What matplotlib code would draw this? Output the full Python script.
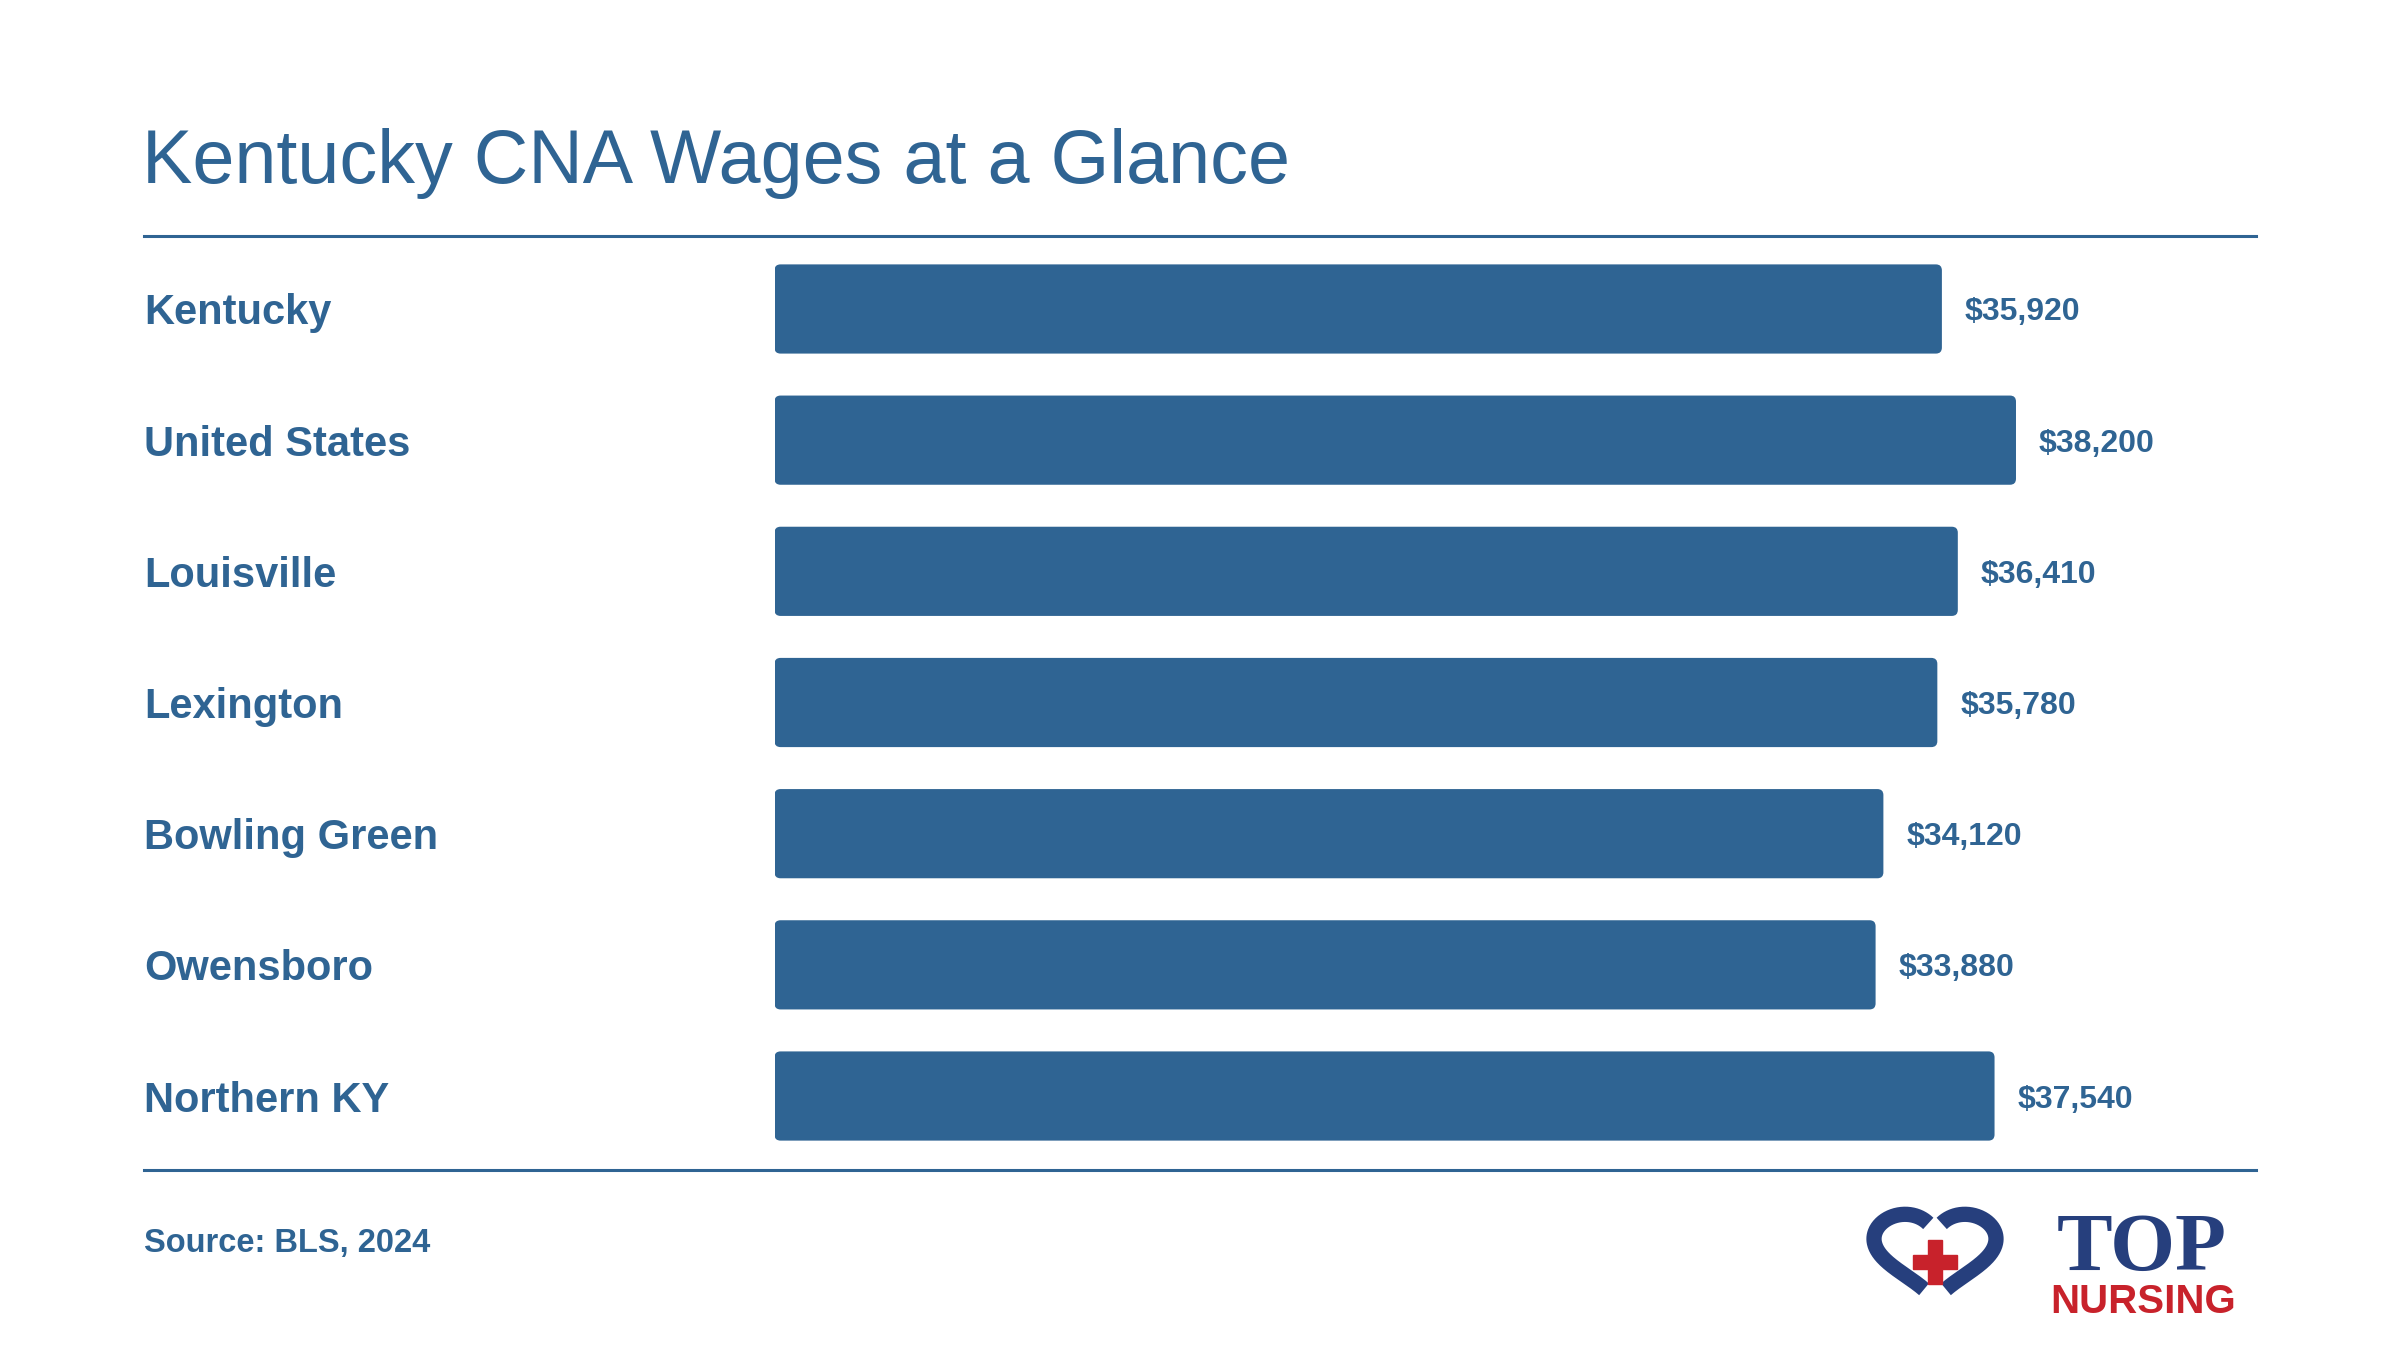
import numpy as np
import matplotlib
matplotlib.use('Agg')
import matplotlib.pyplot as plt
from matplotlib.patches import FancyBboxPatch
from matplotlib.lines import Line2D
import matplotlib.transforms as mtransforms

locations = ['Kentucky', 'United States', 'Louisville', 'Lexington',
             'Bowling Green', 'Owensboro', 'Northern KY']
wages = [35920, 38200, 36410, 35780, 34120, 33880, 37540]
title = 'Kentucky CNA Wages at a Glance'
source = 'Source: BLS, 2024'

BLUE = '#2F6493'
NAVY = '#263F7D'
RED = '#C8222B'
W, H = 2400, 1350

plt.rcParams['font.family'] = ['Liberation Sans', 'DejaVu Sans']

fig = plt.figure(figsize=(24, 13.5), dpi=100)
fig.patch.set_facecolor('white')

def fx(px):
    return px / W

def fy(py):
    return 1 - py / H

# bar axes: zero at x=774.5px, right edge at 2256px
ax = fig.add_axes([fx(774.5), fy(1161.6), fx(2256 - 774.5), (1161.6 - 243.4) / H])
xmax = 45585
ax.set_xlim(0, xmax)
ax.set_ylim(len(locations) - 0.5, -0.5)
ax.axis('off')

ypos = np.arange(len(locations))
bars = ax.barh(ypos, wages, height=0.68, color=BLUE)

# swap plain bars for rounded ones
x_per_px = xmax / (2256 - 774.5)
y_per_px = len(locations) / (1161.6 - 243.4)
for b in bars:
    x0, y0, w, h = b.get_x(), b.get_y(), b.get_width(), b.get_height()
    b.set_visible(False)
    ax.add_patch(FancyBboxPatch((x0, y0), w, h,
                                boxstyle=f'round,pad=0,rounding_size={6 * x_per_px}',
                                mutation_aspect=y_per_px / x_per_px,
                                facecolor=BLUE, edgecolor='none'))

for y, v in zip(ypos, wages):
    ax.annotate(f'${v:,}', (v, y), xytext=(16.5, 0), textcoords='offset points',
                ha='left', va='center_baseline', fontsize=23, fontweight='bold', color=BLUE)

lab_tr = mtransforms.blended_transform_factory(fig.transFigure, ax.transData)
for y, name in zip(ypos, locations):
    ax.text(fx(144), y, name, transform=lab_tr, ha='left', va='center_baseline',
            fontsize=30, fontweight='bold', color=BLUE)

# title, rules, source
fig.text(fx(142), fy(183), title, ha='left', va='baseline', fontsize=54.4, color=BLUE)
fig.add_artist(Line2D([fx(144), fx(2256)], [fy(236), fy(236)], color=BLUE, lw=2.2))
fig.add_artist(Line2D([fx(144), fx(2256)], [fy(1170), fy(1170)], color=BLUE, lw=2.2))
fig.text(fx(144), fy(1240), source, ha='left', va='center_baseline',
         fontsize=23.5, fontweight='bold', color=BLUE)

# logo: heart outline with red cross
lax = fig.add_axes([fx(1874), fy(1304), fx(1996 - 1874), (1304 - 1215) / H])
lax.set_xlim(-16, 16)
lax.set_ylim(-17, 11.7)
lax.axis('off')
for sgn in (1, -1):
    t = np.linspace(0.5, np.pi - 0.6, 200)
    hx = 16 * np.sin(t) ** 3
    hy = 13 * np.cos(t) - 5 * np.cos(2 * t) - 2 * np.cos(3 * t) - np.cos(4 * t)
    lax.plot(sgn * hx, hy, color=NAVY, lw=11, solid_capstyle='butt', clip_on=False)
lax.plot([0], [-3.4], marker='P', markersize=31, color=RED, clip_on=False)

fig.text(fx(2142), fy(1270), 'TOP', ha='center', va='baseline', fontsize=60,
         fontweight='bold', color=NAVY, family=['Liberation Serif', 'DejaVu Serif'])
fig.text(fx(2143), fy(1313), 'NURSING', ha='center', va='baseline', fontsize=29,
         fontweight='bold', color=RED)

fig.savefig('out.png', dpi=100, facecolor='white')
